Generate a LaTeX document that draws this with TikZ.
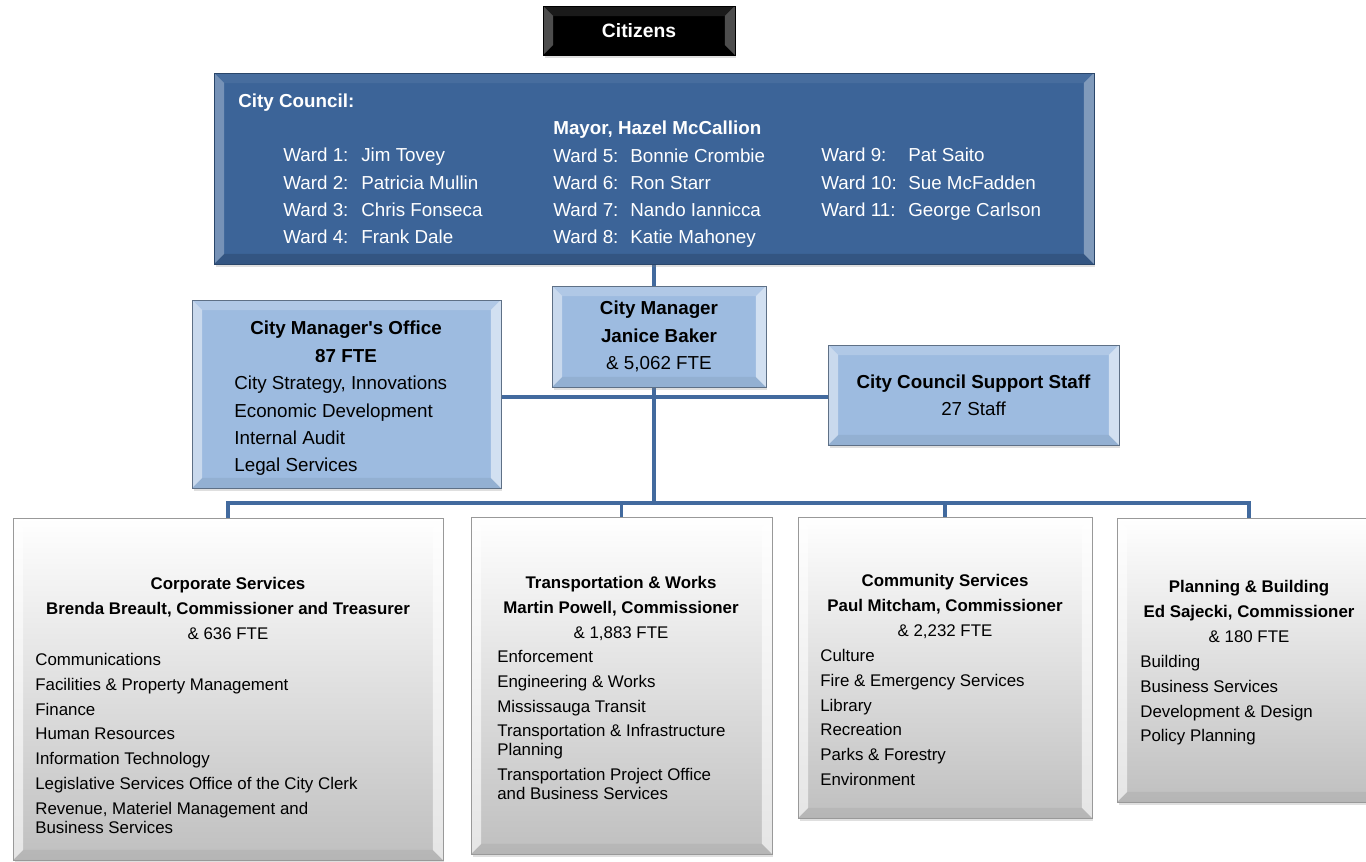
\documentclass[tikz,border=0pt]{standalone}
\usepackage{fontspec}
\setsansfont{Liberation Sans}
\usetikzlibrary{shadows,backgrounds}

\definecolor{councilblue}{RGB}{60,100,152}
\definecolor{paleblue}{RGB}{157,187,224}
\definecolor{linkblue}{RGB}{66,106,158}
\newcommand\bev{0.2cm}
\newcommand\wardlbl[2][1.56cm]{\makebox[#1][l]{#2}}

\begin{document}
\begin{tikzpicture}[
  x=0.02cm, y=-0.02cm,
  font=\sffamily,
  bevel/.style n args={4}{path picture={
    \coordinate (sw) at (path picture bounding box.south west);
    \coordinate (ne) at (path picture bounding box.north east);
    \coordinate (nw) at (sw |- ne);
    \coordinate (se) at (ne |- sw);
    \fill[white,opacity=#1] (sw) -- (nw) -- ([shift={(\bev,-\bev)}]nw) -- ([shift={(\bev,\bev)}]sw) -- cycle;
    \fill[white,opacity=#2] (nw) -- (ne) -- ([shift={(-\bev,-\bev)}]ne) -- ([shift={(\bev,-\bev)}]nw) -- cycle;
    \fill[white,opacity=#3] (ne) -- (se) -- ([shift={(-\bev,\bev)}]se) -- ([shift={(-\bev,-\bev)}]ne) -- cycle;
    \fill[black,opacity=#4] (se) -- (sw) -- ([shift={(\bev,\bev)}]sw) -- ([shift={(-\bev,\bev)}]se) -- cycle;
  }},
  box/.style={
    rectangle, outer sep=0pt, inner sep=0pt, align=center,
    drop shadow={opacity=.25, shadow xshift=.03cm, shadow yshift=-.07cm},
  },
  darkbox/.style={box, fill=black, draw=black, bevel={.3}{.1}{.3}{0},
    text=white, font=\sffamily\bfseries\fontsize{11}{13}\selectfont},
  council/.style={box, fill=councilblue, draw=councilblue!70!black, bevel={.3}{.06}{.35}{.14}},
  pale/.style={box, fill=paleblue, draw=paleblue!60!black, bevel={.45}{.2}{.55}{.06}},
  dept/.style={box, top color=white, bottom color=black!25, draw=black!40, bevel={.6}{.1}{.6}{.05}},
  ctext/.style={inner sep=0pt, align=left, text=white, font=\sffamily\fontsize{10.7}{15.5}\selectfont},
  mtext/.style={inner sep=0pt, font=\sffamily\fontsize{10.7}{15.5}\selectfont},
  btext/.style={inner sep=0pt, font=\sffamily\fontsize{9.6}{14.1}\selectfont},
  conn/.style={line width=2.2pt, color=linkblue},
]
\useasboundingbox (0,0) rectangle (1366,862);

% top
\node[darkbox, minimum width=3.84cm, minimum height=0.98cm] (citizens) at (639,30.5) {Citizens};
\node[council, minimum width=17.6cm, minimum height=3.82cm] (council) at (654,168.5) {};
\node[ctext, anchor=north west] (cc-title) at (238,94) {\textbf{City Council:}};
\node[ctext, anchor=north west] (cc-col1) at (283,148) {%
  \wardlbl{Ward 1:}Jim Tovey\\ \wardlbl{Ward 2:}Patricia Mullin\\
  \wardlbl{Ward 3:}Chris Fonseca\\ \wardlbl{Ward 4:}Frank Dale};
\node[ctext, anchor=north west] (cc-col2) at (553,121) {%
  \textbf{Mayor, Hazel McCallion}\\
  \wardlbl[1.54cm]{Ward 5:}Bonnie Crombie\\ \wardlbl[1.54cm]{Ward 6:}Ron Starr\\
  \wardlbl[1.54cm]{Ward 7:}Nando Iannicca\\ \wardlbl[1.54cm]{Ward 8:}Katie Mahoney};
\node[ctext, anchor=north west] (cc-col3) at (821,148) {%
  \wardlbl[1.74cm]{Ward 9:}Pat Saito\\ \wardlbl[1.74cm]{Ward 10:}Sue McFadden\\
  \wardlbl[1.74cm]{Ward 11:}George Carlson};

% middle
\node[pale, mtext, minimum width=4.28cm, minimum height=2.02cm] (manager) at (659,336.5)
  {\textbf{City Manager}\\ \textbf{Janice Baker}\\ \& 5,062 FTE};
\node[pale, minimum width=6.18cm, minimum height=3.76cm] (office) at (346.5,394) {};
\node[mtext, anchor=north, align=center] (office-head) at (346,321)
  {\textbf{City Manager\textquotesingle s Office}\\ \textbf{87 FTE}};
\node[mtext, anchor=north west, align=left] (office-list) at (234,376)
  {City Strategy, Innovations\\ Economic Development\\ Internal Audit\\ Legal Services};
\node[pale, mtext, minimum width=5.82cm, minimum height=2.0cm] (support) at (973.5,395)
  {\textbf{City Council Support Staff}\\ 27 Staff};

% departments
\node[dept, minimum width=8.6cm, minimum height=6.84cm] (corp) at (228,689) {};
\node[btext, anchor=north, align=center] (corp-head) at (228,577)
  {\textbf{Corporate Services}\\ \textbf{Brenda Breault, Commissioner and Treasurer}\\ \& 636 FTE};
\node[btext, anchor=north west, align=left] (corp-list) at (35,653)
  {Communications\\ Facilities \& Property Management\\ Finance\\ Human Resources\\
   Information Technology\\ Legislative Services Office of the City Clerk\\
   Revenue, Materiel Management and\\[-3.3pt] Business Services};

\node[dept, minimum width=6.02cm, minimum height=6.74cm] (trans) at (621.5,685.5) {};
\node[btext, anchor=north, align=center] (trans-head) at (621,576)
  {\textbf{Transportation \& Works}\\ \textbf{Martin Powell, Commissioner}\\ \& 1,883 FTE};
\node[btext, anchor=north west, align=left] (trans-list) at (497,650)
  {Enforcement\\ Engineering \& Works\\ Mississauga Transit\\
   Transportation \& Infrastructure\\[-3.3pt] Planning\\
   Transportation Project Office\\[-3.3pt] and Business Services};

\node[dept, minimum width=5.88cm, minimum height=6.02cm] (comm) at (945,667.5) {};
\node[btext, anchor=north, align=center] (comm-head) at (945,574)
  {\textbf{Community Services}\\ \textbf{Paul Mitcham, Commissioner}\\ \& 2,232 FTE};
\node[btext, anchor=north west, align=left] (comm-list) at (820,649)
  {Culture\\ Fire \& Emergency Services\\ Library\\ Recreation\\ Parks \& Forestry\\ Environment};

\node[dept, minimum width=5.28cm, minimum height=5.68cm] (plan) at (1249,660) {};
\node[btext, anchor=north, align=center] (plan-head) at (1249,580)
  {\textbf{Planning \& Building}\\ \textbf{Ed Sajecki, Commissioner}\\ \& 180 FTE};
\node[btext, anchor=north west, align=left] (plan-list) at (1140,655)
  {Building\\ Business Services\\ Development \& Design\\ Policy Planning};

% connectors
\coordinate (hub) at (654,397);
\coordinate (bus) at (654,503);
\begin{scope}[on background layer]
  \draw[conn] (council.south) -- (bus);
  \draw[conn] (office.east |- hub) -- (support.west |- hub);
  \draw[conn] (corp.north) |- (bus) -| (plan.north);
  \draw[conn] (trans.north) -- (trans.north |- bus);
  \draw[conn] (comm.north) -- (comm.north |- bus);
\end{scope}

\end{tikzpicture}
\end{document}
